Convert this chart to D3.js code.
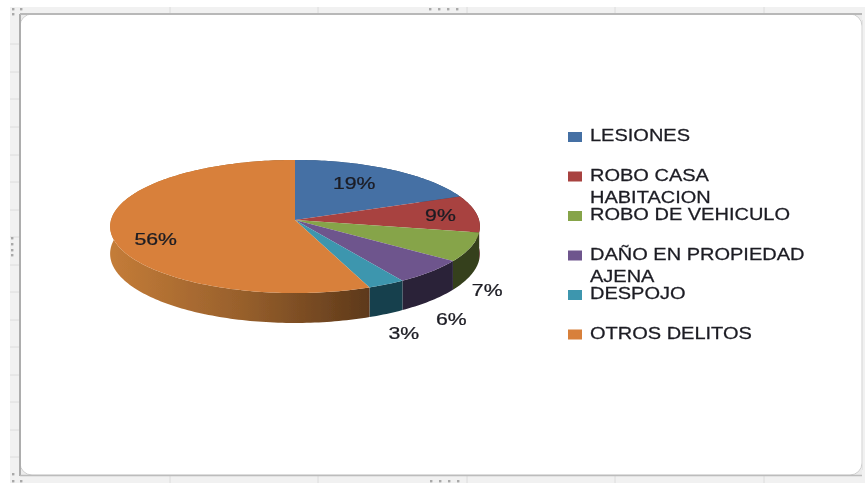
<!DOCTYPE html>
<html>
<head>
<meta charset="utf-8">
<script src="https://cdnjs.cloudflare.com/ajax/libs/d3/7.8.5/d3.min.js"></script>
<style>
  html, body { margin: 0; padding: 0; background: #fff; }
  svg { display: block; }
  text { font-family: "Liberation Sans", sans-serif; fill: #1c1c24; stroke: #1c1c24; stroke-width: 0.25; }
</style>
</head>
<body>
<svg width="865" height="483"></svg>
<script>
const categories = ["LESIONES", "ROBO CASA HABITACION", "ROBO DE VEHICULO", "DAÑO EN PROPIEDAD AJENA", "DESPOJO", "OTROS DELITOS"];
const legendLines = [["LESIONES"], ["ROBO CASA", "HABITACION"], ["ROBO DE VEHICULO"], ["DAÑO EN PROPIEDAD", "AJENA"], ["DESPOJO"], ["OTROS DELITOS"]];
const values = [19, 9, 7, 6, 3, 56];
const topColors = ["#4470a4", "#a8423f", "#86a44a", "#6e548d", "#3d96ae", "#d8803a"];
const sideColors = ["#2c4a6e", "#5c2322", "#353f1c", "#2b2138", "#17404d", "url(#rimOrange)"];

// где стоит подпись: доля радиуса и сдвиг по вертикали
const labelRadius = [0.6, 0.8, 1.09, 1.14, 1.17, 0.76];
const labelShift = [-5, 1, 13, 11, 7, 10];

const gridX = [170, 318, 467, 615, 764];
const gridY = [44, 72, 99, 127, 155, 182, 210, 237, 265, 292, 320, 347, 375, 402, 430, 457];
// точки-маркеры рамки Excel
const handles = [
    [13, 9], [21, 9], [13, 14],
    [430, 9], [439, 9], [448, 9], [457, 9],
    [12, 238], [12, 244], [12, 250], [12, 255],
    [13, 474], [13, 481], [21, 481],
    [431, 481], [440, 481], [449, 481], [458, 481]
];

const svg = d3.select("svg");
const defs = svg.append("defs");

defs.append("filter").attr("id", "soft")
    .attr("x", 0).attr("y", 0).attr("width", 1).attr("height", 1)
    .append("feGaussianBlur").attr("stdDeviation", 0.55);

const rim = defs.append("linearGradient").attr("id", "rimOrange")
    .attr("gradientUnits", "userSpaceOnUse")
    .attr("x1", 110).attr("x2", 372).attr("y1", 0).attr("y2", 0);
rim.append("stop").attr("offset", "0%").attr("stop-color", "#c47c38");
rim.append("stop").attr("offset", "50%").attr("stop-color", "#98602c");
rim.append("stop").attr("offset", "100%").attr("stop-color", "#5c381a");

const root = svg.append("g").attr("filter", "url(#soft)");

// серый фон листа и белая область диаграммы
root.append("rect").attr("x", 10).attr("y", 7).attr("width", 855).attr("height", 476).attr("fill", "#f1f1f1");
root.selectAll(".gx").data(gridX).join("line")
    .attr("x1", d => d).attr("x2", d => d).attr("y1", 7).attr("y2", 483)
    .attr("stroke", "#dcdcdc");
root.selectAll(".gy").data(gridY).join("line")
    .attr("x1", 10).attr("x2", 20).attr("y1", d => d).attr("y2", d => d)
    .attr("stroke", "#dcdcdc");
root.selectAll(".handle").data(handles).join("rect")
    .attr("x", d => d[0] - 1).attr("y", d => d[1] - 1).attr("width", 2.4).attr("height", 2.4)
    .attr("fill", "#a9a9a9");

root.append("rect")
    .attr("x", 20).attr("y", 14).attr("width", 842).attr("height", 461)
    .attr("fill", "#ececec");
root.append("rect")
    .attr("x", 20).attr("y", 14).attr("width", 842).attr("height", 461).attr("rx", 12)
    .attr("fill", "#fff").attr("stroke", "#c4c4c4").attr("stroke-width", 0.8);
root.append("line").attr("x1", 20).attr("x2", 20).attr("y1", 14).attr("y2", 476).attr("stroke", "#adadad").attr("stroke-width", 2);
root.append("line").attr("x1", 20).attr("x2", 862).attr("y1", 14).attr("y2", 14).attr("stroke", "#b8b8b8").attr("stroke-width", 2);
root.append("line").attr("x1", 20).attr("x2", 862).attr("y1", 475.5).attr("y2", 475.5).attr("stroke", "#bcbcbc").attr("stroke-width", 1.5);
root.append("line").attr("x1", 862.5).attr("x2", 862.5).attr("y1", 20).attr("y2", 470).attr("stroke", "#e4e4e4");

// проекция круга с перспективой: дальний край меньше ближнего
const cx = 295, cy = 220, A = 184, B = 65.9, k = 0.0977, depth = 27;
function project(angle, r, z) {
    const X = Math.sin(angle) * r;
    const Y = Math.cos(angle) * r;
    const w = 1 + k * Y;
    return [cx + A * X / w, cy - (B * Y - z) / w];
}

const pie = d3.pie().sort(null).value(d => d);
const arcs = pie(values);
const line = d3.line();

function edge(a0, a1, z) {
    const n = Math.max(2, Math.ceil((a1 - a0) / 0.02));
    return d3.range(n + 1).map(i => project(a0 + (a1 - a0) * i / n, 1, z));
}

const g = root.append("g");

// сначала бок, верх рисуем поверх него
g.selectAll(".side").data(arcs).join("path")
    .attr("d", d => line(edge(d.startAngle, d.endAngle, 0).concat(edge(d.startAngle, d.endAngle, depth).reverse())) + "Z")
    .attr("fill", (d, i) => sideColors[i]);

g.selectAll(".top").data(arcs).join("path")
    .attr("d", d => line([[cx, cy]].concat(edge(d.startAngle, d.endAngle, 0))) + "Z")
    .attr("fill", (d, i) => topColors[i]);

g.selectAll(".pct").data(arcs).join("text")
    .attr("text-anchor", "middle")
    .attr("font-size", 16)
    .attr("transform", (d, i) => {
        const mid = (d.startAngle + d.endAngle) / 2;
        const z = labelRadius[i] > 1 ? depth : 0;
        const p = project(mid, labelRadius[i], z);
        return `translate(${p[0]},${p[1] + labelShift[i] + 5}) scale(1.33,1)`;
    })
    .text(d => d.value + "%");

// легенда
const legendY = d3.scalePoint().domain(categories).range([141, 338.5]);
const legend = root.append("g").selectAll("g").data(categories).join("g")
    .attr("transform", d => `translate(568,${legendY(d)})`);

legend.append("rect")
    .attr("x", 0).attr("y", -9).attr("width", 14).attr("height", 10)
    .attr("fill", (d, i) => topColors[i]);

legend.each(function(d, i) {
    d3.select(this).selectAll("text").data(legendLines[i]).join("text")
        .attr("font-size", 16)
        .attr("transform", (t, j) => `translate(22,${j * 22}) scale(1.25,1)`)
        .text(t => t);
});
</script>
</body>
</html>
